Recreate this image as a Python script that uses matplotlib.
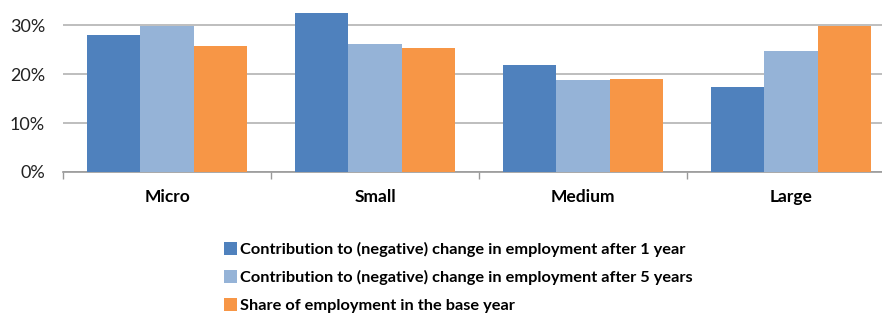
import matplotlib
matplotlib.use("Agg")
import matplotlib.pyplot as plt
import numpy as np
from matplotlib.ticker import FuncFormatter
from matplotlib.patches import Patch

categories = ["Micro", "Small", "Medium", "Large"]
after_1_year = [28.0, 32.6, 21.8, 17.3]
after_5_years = [29.8, 26.3, 18.9, 24.8]
base_year_share = [25.7, 25.4, 19.0, 29.9]
series_labels = [
    "Contribution to (negative) change in employment after 1 year",
    "Contribution to (negative) change in employment after 5 years",
    "Share of employment in the base year",
]
colors = ["#4F81BD", "#95B3D7", "#F79646"]

plt.rcParams['font.family'] = ['Lato', 'DejaVu Sans']

W, H = 882, 316
fig = plt.figure(figsize=(W / 100, H / 100), dpi=100)
ax = fig.add_axes([63 / W, 1 - 172 / H, (895 - 63) / W, 171 / H])

x = np.arange(len(categories))
bw = 0.256
for i, (vals, c) in enumerate(zip([after_1_year, after_5_years, base_year_share], colors)):
    ax.bar(x + (i - 1) * bw, vals, width=bw, color=c, zorder=3)

ax.set_xlim(-0.5, len(categories) - 0.5)
ax.set_ylim(0, 35)
ax.set_yticks([0, 10, 20, 30])
ax.yaxis.set_major_formatter(FuncFormatter(lambda v, p: f"{int(v)}%"))
ax.grid(axis='y', color='#B3B3B3', linewidth=1.2, zorder=0)
ax.tick_params(axis='y', length=0, pad=13, labelsize=13, labelcolor='#222222')

ax.set_xticks(x)
ax.set_xticklabels(categories, fontweight='bold', fontsize=12.5)
ax.set_xticks(np.arange(-0.5, len(categories), 1), minor=True)
ax.tick_params(axis='x', which='major', length=0, pad=12)
ax.tick_params(axis='x', which='minor', length=5, color='#999999', width=1)

for s in ['top', 'right', 'left']:
    ax.spines[s].set_visible(False)
ax.spines['bottom'].set_color('#999999')
ax.spines['bottom'].set_linewidth(1.2)

handles = [Patch(facecolor=c, edgecolor='none') for c in colors]
fig.legend(handles, series_labels, loc='upper left',
           bbox_to_anchor=(224 / W, 1 - 242 / H), frameon=False,
           prop={'weight': 'bold', 'size': 11.8}, handlelength=0.8,
           handleheight=0.8, handletextpad=0.2, labelspacing=0.8,
           borderaxespad=0, borderpad=0)

fig.savefig("out.png", dpi=100)
